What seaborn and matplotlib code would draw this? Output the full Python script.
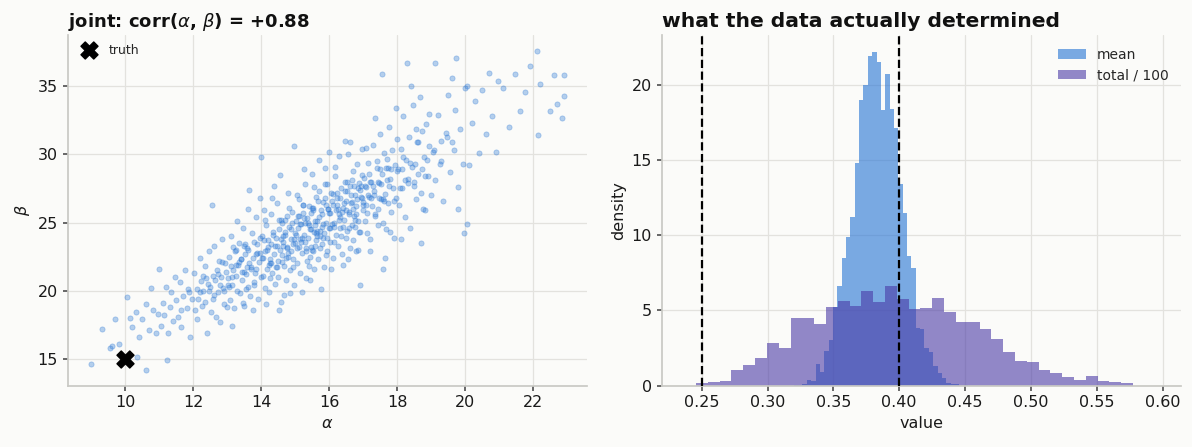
import numpy as np
import pandas as pd
import seaborn as sns
import matplotlib.pyplot as plt

# posterior draws of (alpha, beta)
alpha_draws = [
    9.0, 9.3, 9.55, 9.6, 9.7, 9.8,
    10.05, 10.15, 10.2, 10.3, 10.35, 10.4, 10.5, 10.6, 10.6, 10.7, 10.75, 10.8, 10.9, 10.95,
    11.0, 11.05, 11.1, 11.15, 11.2, 11.23, 11.25, 11.3, 11.35, 11.4, 11.45, 11.5, 11.55, 11.6,
    11.65, 11.7, 11.75, 11.8, 11.85, 11.9, 11.95,
    12.02, 12.05, 12.1, 12.12, 12.15, 12.2, 12.22, 12.25, 12.3, 12.33, 12.35, 12.4, 12.42, 12.45,
    12.5, 12.52, 12.55, 12.58, 12.6, 12.62, 12.65, 12.68, 12.7, 12.72, 12.75, 12.78, 12.8, 12.82,
    12.85, 12.88, 12.9, 12.92, 12.95, 12.98,
    13.02, 13.05, 13.05, 13.08, 13.1, 13.12, 13.15, 13.15, 13.18, 13.2, 13.22, 13.25, 13.25, 13.28,
    13.3, 13.32, 13.35, 13.35, 13.38, 13.4, 13.42, 13.45, 13.45, 13.48, 13.5, 13.5, 13.52, 13.55,
    13.55, 13.58, 13.6, 13.62, 13.65, 13.65, 13.68, 13.7, 13.72, 13.75, 13.75, 13.78, 13.8, 13.82,
    13.85, 13.85, 13.88, 13.9, 13.92, 13.95, 13.95, 13.98,
    14.0, 14.02, 14.03, 14.05, 14.07, 14.08, 14.1, 14.12, 14.13, 14.15, 14.17, 14.18, 14.2, 14.22,
    14.23, 14.25, 14.27, 14.28, 14.3, 14.32, 14.33, 14.35, 14.37, 14.38, 14.4, 14.42, 14.43, 14.45,
    14.47, 14.48, 14.5, 14.52, 14.53, 14.55, 14.55, 14.57, 14.58, 14.6, 14.62, 14.63, 14.65, 14.67,
    14.68, 14.7, 14.72, 14.73, 14.75, 14.77, 14.78, 14.8, 14.82, 14.83, 14.85, 14.85, 14.87, 14.88,
    14.9, 14.92, 14.93, 14.95, 14.97, 14.98,
    15.0, 15.02, 15.04, 15.05, 15.08, 15.09, 15.1, 15.12, 15.14, 15.15, 15.18, 15.19, 15.2, 15.22,
    15.24, 15.25, 15.26, 15.28, 15.29, 15.3, 15.32, 15.34, 15.35, 15.38, 15.39, 15.4, 15.42, 15.44,
    15.45, 15.46, 15.48, 15.49, 15.5, 15.52, 15.54, 15.55, 15.56, 15.58, 15.59, 15.6, 15.62, 15.64,
    15.65, 15.68, 15.69, 15.7, 15.72, 15.74, 15.75, 15.78, 15.79, 15.8, 15.82, 15.84, 15.85, 15.86,
    15.88, 15.89, 15.9, 15.92, 15.94, 15.95, 15.98, 15.99,
    16.0, 16.02, 16.05, 16.06, 16.08, 16.1, 16.11, 16.12, 16.15, 16.16, 16.18, 16.2, 16.22, 16.25,
    16.26, 16.28, 16.3, 16.31, 16.32, 16.35, 16.36, 16.38, 16.4, 16.41, 16.42, 16.45, 16.46, 16.48,
    16.5, 16.51, 16.52, 16.55, 16.56, 16.58, 16.6, 16.61, 16.62, 16.65, 16.66, 16.68, 16.7, 16.71,
    16.72, 16.75, 16.76, 16.78, 16.8, 16.82, 16.85, 16.86, 16.88, 16.89, 16.9, 16.91, 16.92, 16.95,
    16.96, 16.98,
    17.0, 17.03, 17.06, 17.08, 17.09, 17.12, 17.13, 17.15, 17.18, 17.2, 17.21, 17.24, 17.27, 17.3,
    17.33, 17.35, 17.36, 17.39, 17.42, 17.44, 17.45, 17.48, 17.5, 17.51, 17.54, 17.56, 17.57, 17.59,
    17.6, 17.63, 17.65, 17.66, 17.69, 17.72, 17.74, 17.75, 17.78, 17.8, 17.81, 17.84, 17.87, 17.9,
    17.93, 17.95, 17.96, 17.99,
    18.02, 18.06, 18.1, 18.12, 18.14, 18.18, 18.22, 18.26, 18.3, 18.31, 18.34, 18.38, 18.4, 18.42,
    18.46, 18.5, 18.54, 18.56, 18.58, 18.62, 18.66, 18.69, 18.7, 18.74, 18.76, 18.78, 18.82, 18.86,
    18.9, 18.92, 18.94, 18.98,
    19.05, 19.1, 19.12, 19.2, 19.28, 19.3, 19.35, 19.42, 19.5, 19.55, 19.6, 19.62, 19.7, 19.73,
    19.78, 19.8, 19.85, 19.92, 19.95, 19.98,
    20.05, 20.06, 20.1, 20.2, 20.3, 20.4, 20.5, 20.6, 20.7, 20.8, 20.9, 20.95,
    21.1, 21.3, 21.45, 21.6, 21.75, 21.9, 22.1, 22.15, 22.2, 22.5, 22.6, 22.7, 22.84, 22.9, 22.9,
    # denser core of the cloud
    12.37, 12.91, 13.17, 13.43, 13.61, 13.79, 13.97, 14.11, 14.26, 14.34, 14.46, 14.59, 14.64, 14.71,
    14.79, 14.86, 14.94, 15.03, 15.11, 15.17, 15.23, 15.31, 15.37, 15.43, 15.47, 15.53, 15.57, 15.63,
    15.67, 15.73, 15.77, 15.83, 15.87, 15.93, 15.97, 16.03, 16.09, 16.13, 16.19, 16.23, 16.29, 16.33,
    16.39, 16.43, 16.49, 16.53, 16.59, 16.63, 16.69, 16.73, 16.79, 16.83, 16.87, 16.93, 16.99, 17.04,
    17.11, 17.16, 17.22, 17.29, 17.34, 17.41, 17.47, 17.53, 17.61, 17.68, 17.76, 17.83, 17.91, 17.98,
    18.07, 18.16, 18.24, 18.37, 18.48, 18.61, 18.73, 18.88, 13.03, 13.27, 13.53, 13.71, 13.87, 14.06,
    14.19, 14.29, 14.41, 14.51, 14.61, 14.69, 14.76, 14.89, 14.96, 15.06, 15.13, 15.21, 15.27, 15.33,
    15.41, 15.51, 15.61, 15.71, 15.81, 15.91, 16.01, 16.14, 16.24, 16.37, 16.47, 16.57, 16.67, 16.77,
    16.84, 16.97, 17.07, 17.19, 17.31, 17.43, 17.58, 17.71, 12.47, 12.73, 12.57, 12.83, 12.19, 11.87,
    11.63, 12.29, 13.13, 13.39, 13.57, 13.83, 18.13, 18.33, 18.53, 18.81, 19.07, 19.27, 19.46, 19.67,
]
beta_draws = [
    14.6, 17.2, 15.8, 15.9, 17.9, 16.1,
    19.5, 18.0, 17.3, 18.4, 15.1, 16.6, 17.9, 14.2, 19.0, 17.1, 20.2, 18.6, 16.9, 18.3,
    21.6, 17.4, 19.1, 18.2, 20.3, 14.9, 16.9, 18.8, 19.9, 17.8, 21.0, 19.3, 18.1, 20.6,
    17.3, 19.6, 21.5, 18.7, 20.1, 16.6, 19.4,
    21.3, 18.6, 20.1, 17.9, 19.4, 22.4, 20.7, 18.9, 20.0, 21.8, 19.2, 16.9, 20.5, 22.9,
    20.3, 18.4, 26.3, 21.1, 19.7, 23.3, 20.8, 18.1, 21.5, 19.9, 22.2, 20.4, 17.7, 21.0,
    23.8, 20.2, 19.0, 22.0, 21.4, 18.8,
    20.9, 22.5, 20.3, 19.3, 21.8, 24.0, 20.4, 17.4, 21.5, 18.7, 22.9, 21.1, 23.0, 25.1,
    20.0, 21.9, 23.5, 22.1, 19.8, 22.3, 20.8, 24.6, 19.1, 21.4, 18.9, 23.3, 22.7, 21.2,
    20.1, 23.1, 20.3, 26.0, 22.0, 27.4, 19.6, 21.7, 24.2, 22.4, 18.6, 20.6, 23.6, 21.3,
    25.4, 21.6, 22.8, 19.4, 22.1, 23.9, 26.8, 21.0,
    29.8, 22.4, 24.0, 21.1, 25.9, 23.7, 20.2, 22.9, 19.0, 24.8, 23.0, 21.6, 23.2, 19.9,
    21.9, 22.0, 20.9, 25.6, 23.4, 21.3, 26.8, 24.1, 27.7, 22.7, 20.5, 23.9, 21.7, 26.4,
    23.3, 22.2, 21.0, 24.5, 18.6, 23.0, 28.5, 25.2, 19.2, 22.6, 25.0, 24.0, 23.6, 19.7,
    21.8, 24.3, 20.8, 22.4, 23.1, 25.5, 27.2, 22.5, 24.7, 26.1, 21.5, 19.8, 22.9, 23.8,
    25.8, 22.3, 23.4, 20.4, 30.6, 24.2,
    23.5, 25.1, 27.0, 22.0, 24.6, 25.5, 26.7, 23.2, 23.8, 21.3, 24.9, 19.9, 22.8, 25.7,
    26.3, 24.1, 28.9, 27.8, 25.0, 23.6, 20.9, 22.2, 25.3, 23.9, 21.8, 26.2, 22.5, 20.8,
    24.5, 23.2, 28.6, 26.1, 23.0, 25.9, 27.6, 21.6, 24.3, 24.8, 23.3, 26.9, 23.7, 24.0,
    25.1, 22.3, 29.6, 27.3, 24.4, 23.1, 20.1, 25.6, 24.7, 23.4, 26.5, 21.7, 24.2, 26.8,
    29.0, 22.6, 25.0, 22.9, 27.8, 26.0, 24.6, 30.2,
    25.7, 23.6, 27.2, 21.6, 24.9, 22.4, 27.1, 26.3, 25.0, 29.1, 28.4, 24.1, 26.8, 23.3,
    26.0, 25.6, 29.9, 25.4, 24.6, 27.5, 24.0, 22.7, 26.1, 21.9, 25.2, 28.0, 31.0, 23.9,
    26.6, 27.3, 24.4, 30.0, 22.3, 25.8, 27.7, 30.9, 23.1, 26.4, 28.1, 24.8, 28.8, 23.7,
    25.5, 27.0, 24.7, 22.9, 26.2, 29.3, 25.1, 23.0, 27.9, 20.4, 24.3, 27.4, 26.9, 28.5,
    30.4, 25.9,
    26.5, 28.3, 25.1, 30.5, 27.6, 24.2, 27.0, 29.4, 26.9, 22.9, 23.8, 28.0, 26.2, 30.7,
    27.3, 32.7, 25.5, 29.0, 24.8, 26.0, 27.9, 31.5, 28.9, 26.7, 28.6, 35.9, 25.0, 21.6,
    30.1, 27.1, 22.4, 24.5, 29.7, 26.4, 29.0, 32.0, 28.2, 24.3, 25.8, 30.3, 27.5, 23.9,
    29.2, 33.4, 26.8, 31.1,
    28.9, 26.3, 30.4, 23.8, 27.5, 32.8, 25.4, 29.6, 36.7, 27.9, 31.3, 24.6, 35.0, 29.1,
    33.6, 28.0, 26.7, 31.9, 30.9, 28.6, 34.2, 23.5, 27.2, 31.7, 26.0, 29.8, 25.9, 32.2,
    28.4, 33.0, 30.6, 27.0,
    30.2, 36.7, 28.1, 32.9, 29.5, 31.0, 26.6, 31.6, 34.4, 28.7, 35.6, 30.9, 33.3, 37.1,
    27.6, 26.0, 31.9, 29.3, 24.2, 34.9,
    35.0, 24.9, 29.2, 32.3, 33.9, 30.1, 34.7, 31.5, 36.0, 32.8, 30.2, 35.4,
    34.9, 32.0, 35.9, 33.2, 34.6, 36.5, 37.6, 31.4, 35.2, 33.2, 35.8, 33.7, 32.7, 34.3, 35.8,
    # denser core of the cloud
    20.9, 20.0, 23.2, 21.4, 23.0, 20.4, 22.8, 25.2, 22.3, 24.3, 21.7, 23.8, 23.3, 25.2,
    22.8, 24.5, 21.7, 24.1, 25.5, 23.6, 26.3, 23.1, 25.0, 24.5, 25.7, 22.9, 25.1, 24.4,
    26.6, 24.0, 25.9, 24.9, 27.8, 23.9, 26.0, 24.6, 26.6, 23.6, 25.9, 27.2, 25.2, 26.8,
    24.7, 26.4, 25.9, 28.0, 24.6, 27.0, 26.0, 27.7, 25.6, 26.7, 24.3, 27.7, 26.3, 27.7,
    25.7, 28.6, 26.8, 27.7, 25.6, 29.5, 26.8, 27.8, 26.6, 29.0, 27.7, 28.9, 26.6, 28.8,
    27.5, 29.8, 28.1, 29.4, 27.7, 30.9, 28.9, 29.6, 20.4, 21.9, 23.4, 21.6, 23.4, 22.4,
    23.7, 22.0, 23.3, 25.2, 22.1, 24.1, 23.2, 25.0, 23.8, 23.1, 24.9, 23.9, 25.3, 22.9,
    24.8, 26.1, 24.2, 25.4, 23.9, 26.3, 25.7, 24.7, 26.3, 25.8, 27.3, 25.6, 26.5, 25.2,
    27.5, 26.8, 26.3, 28.0, 27.0, 28.0, 26.7, 28.1, 20.0, 21.2, 19.4, 22.1, 19.9, 19.9,
    18.6, 21.1, 21.0, 22.3, 21.7, 22.7, 28.9, 28.2, 29.3, 28.4, 30.3, 29.3, 31.3, 30.3,
]
truth_alpha = [10.0]
truth_beta = [15.0]

# histogram heights (density)
mean_bin_start, mean_bin_width = 0.3199, 0.003309
mean_density = [
    0.04, 0.04, 0.11, 0.40, 0.33, 1.46, 0.93, 2.33, 3.06, 5.2,
    6.6, 8.5, 9.9, 11.2, 14.8, 19.0, 20.0, 21.9, 22.2, 21.5,
    18.3, 20.7, 18.4, 17.1, 13.4, 11.5, 8.6, 7.8, 3.81, 3.75,
    2.5, 2.26, 1.33, 0.86, 0.53, 0.2, 0.13, 0.13, 0.0, 0.07,
]
total_bin_start, total_bin_width = 0.2457, 0.00897
total_density = [
    0.20, 0.27, 0.33, 1.06, 1.40, 1.86, 2.86, 2.53, 4.50, 4.50,
    4.12, 5.25, 5.60, 5.30, 6.30, 5.59, 6.59, 5.79, 5.06, 5.19,
    5.85, 4.92, 4.26, 4.26, 3.79, 3.13, 2.20, 1.66, 1.60, 1.06,
    0.86, 0.60, 0.40, 0.67, 0.33, 0.27, 0.20,
]
true_mean = 0.25
true_total = 0.40

BG = "#fbfbf9"
BLUE = "#2373d4"
PURPLE = "#4a3aa6"

sns.set_theme(style="whitegrid")
plt.rcParams.update({
    "figure.facecolor": BG,
    "axes.facecolor": BG,
    "axes.edgecolor": "#c9c9c4",
    "grid.color": "#e3e2de",
    "grid.linewidth": 0.9,
    "xtick.bottom": True,
    "ytick.left": True,
    "xtick.color": "#555555",
    "ytick.color": "#555555",
    "xtick.labelcolor": "#1a1a1a",
    "ytick.labelcolor": "#1a1a1a",
    "xtick.major.size": 3.5,
    "ytick.major.size": 3.5,
    "xtick.labelsize": 11.5,
    "ytick.labelsize": 11.5,
    "axes.labelsize": 11.5,
    "axes.labelcolor": "#1a1a1a",
})
plt.rcParams["font.family"] = ["DejaVu Sans"]

fig = plt.figure(figsize=(11.92, 4.47), dpi=100)
ax1 = fig.add_axes([0.0568, 0.1374, 0.436, 0.7843])
ax2 = fig.add_axes([0.555, 0.1374, 0.4358, 0.7843])

# left: joint scatter
sns.scatterplot(x=alpha_draws, y=beta_draws, ax=ax1, s=14, color=BLUE,
                alpha=0.33, edgecolor=BLUE, linewidth=0.6, zorder=2)
ax1.scatter(truth_alpha, truth_beta, marker="X", s=150, color="black",
            zorder=5, label="truth")
ax1.legend(loc="upper left", frameon=False, fontsize=9, handletextpad=0.6,
           borderaxespad=0.3)
ax1.set_xlabel(r"$\alpha$")
ax1.set_ylabel(r"$\beta$")
ax1.set_title(r"joint: corr($\alpha$, $\beta$) = +0.88", loc="left",
              fontsize=13, fontweight="bold", color="#111111")

# right: marginal histograms
mean_edges = mean_bin_start + mean_bin_width * np.arange(len(mean_density) + 1)
total_edges = total_bin_start + total_bin_width * np.arange(len(total_density) + 1)
mean_df = pd.DataFrame({"value": (mean_edges[:-1] + mean_edges[1:]) / 2,
                        "density": mean_density})
total_df = pd.DataFrame({"value": (total_edges[:-1] + total_edges[1:]) / 2,
                         "density": total_density})
sns.histplot(data=mean_df, x="value", weights="density", bins=mean_edges.tolist(),
             ax=ax2, color=BLUE, alpha=0.6, linewidth=0, label="mean")
sns.histplot(data=total_df, x="value", weights="density", bins=total_edges.tolist(),
             ax=ax2, color=PURPLE, alpha=0.6, linewidth=0, label="total / 100")
ax2.axvline(true_mean, color="black", ls="--", lw=1.6, zorder=4)
ax2.axvline(true_total, color="black", ls="--", lw=1.6, zorder=4)
ax2.set_xlim(0.2195, 0.614)
ax2.set_xticks(np.arange(0.25, 0.601, 0.05))
ax2.set_xlabel("value")
ax2.set_ylabel("density")
ax2.legend(loc="upper right", frameon=False, fontsize=10)
ax2.set_title("what the data actually determined", loc="left",
              fontsize=14.6, fontweight="bold", color="#111111")

for ax in (ax1, ax2):
    sns.despine(ax=ax)
    ax.set_axisbelow(True)

fig.savefig("out.png", dpi=100, facecolor=BG)
